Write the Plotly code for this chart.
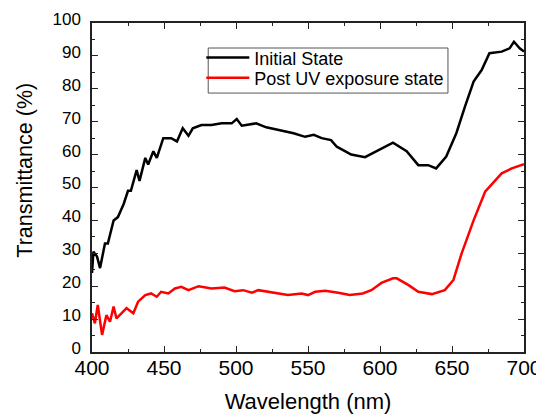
import plotly.graph_objects as go

# wavelength (nm) and transmittance (%)
wl_initial = [400, 401, 403.5, 405.6, 409, 411, 415, 418, 422, 425, 427, 431, 433, 437, 439,
              442.6, 445, 449.5, 455, 459, 463, 467, 470, 476, 483, 490, 497, 500.5, 504,
              514, 521, 529, 540, 548, 554, 559.5, 566, 570, 580, 589.6, 599, 603.5, 609,
              618.5, 626.6, 633.5, 639, 646, 653, 659, 665, 670.6, 676, 684.5, 690, 693,
              697, 700]
t_initial = [24, 30.5, 29, 25.5, 33, 33, 40, 41, 45, 49, 49, 55.3, 52, 59, 57,
             61, 59, 65, 65, 64, 68, 65.7, 68, 69, 69, 69.5, 69.5, 70.8, 68.8,
             69.5, 68.3, 67.5, 66.5, 65.4, 66, 65, 64.4, 62.4, 60, 59.2, 61.4, 62.2, 63.6,
             61, 56.8, 56.8, 55.8, 59.4, 66.5, 74.6, 82.2, 85.7, 90.8, 91.3, 92.3, 94.3,
             92.3, 91.3]

wl_uv = [400, 402, 404, 407, 410, 412.5, 415, 417, 420.6, 424, 428.7, 432, 437, 441,
         445, 448, 453, 457.6, 462, 467, 474, 483, 492, 499, 505, 511, 515.5, 525, 536,
         545.6, 550, 555, 562, 571, 579, 588, 594, 601, 609, 611.6, 619.6, 626.6, 636,
         645, 651, 656.7, 665, 673, 684.5, 691.5, 700]
t_uv = [11.8, 8.7, 14.3, 5.2, 11.2, 9.2, 13.8, 10.2, 11.8, 13.3, 11.8, 15.3, 17.3, 17.8,
        16.8, 18.3, 17.8, 19.3, 19.8, 18.8, 20, 19.3, 19.6, 18.5, 18.8, 18, 18.8, 18, 17.3,
        17.8, 17.3, 18.3, 18.6, 18, 17.3, 17.8, 18.8, 21, 22.4, 22.4, 20.4, 18.3, 17.6,
        18.8, 21.9, 30, 40, 48.7, 54.3, 55.8, 57.1]

fig = go.Figure()
fig.add_trace(go.Scatter(x=wl_initial, y=t_initial, mode="lines", name="Initial State",
                         line=dict(color="black", width=2.5), legend="legend"))
fig.add_trace(go.Scatter(x=wl_uv, y=t_uv, mode="lines", name="Post UV exposure state",
                         line=dict(color="red", width=2.5), legend="legend2"))

axis_common = dict(showline=True, linecolor="#222", linewidth=1.5, mirror="allticks",
                   ticks="inside", ticklen=6, tickwidth=1.2, tickcolor="#222",
                   showgrid=False, zeroline=False, automargin=False)

fig.update_xaxes(range=[400, 700], dtick=50, tickfont=dict(size=21, color="black"),
                 ticklabelstandoff=-4,
                 title=dict(text="Wavelength (nm)", font=dict(size=22, color="black"), standoff=16),
                 minor=dict(ticks="inside", ticklen=3, dtick=25, tickcolor="#222"),
                 **axis_common)
fig.update_yaxes(range=[0, 100], dtick=10, tickfont=dict(size=17, color="black"),
                 ticklabelstandoff=6, ticklabelshift=-4,
                 minor=dict(ticks="inside", ticklen=3, dtick=5, tickcolor="#222"),
                 **axis_common)

# y title sits a bit above the plot centre in the reference
fig.add_annotation(text="Transmittance (%)", textangle=-90, xref="paper", yref="paper",
                   x=-0.156, y=0.553, xanchor="center", yanchor="middle", showarrow=False,
                   font=dict(size=21.5, color="black"))

# one frame around both legend entries
fig.add_shape(type="rect", xref="paper", yref="paper", x0=0.269, x1=0.824, y0=0.787, y1=0.924,
              line=dict(color="#555", width=1), fillcolor="white", layer="below")

leg = dict(xanchor="left", yanchor="middle", bgcolor="rgba(0,0,0,0)", borderwidth=0,
           font=dict(size=18), itemwidth=43)

fig.update_layout(
    width=536, height=407,
    margin=dict(l=84, r=20, t=15, b=63),
    plot_bgcolor="white", paper_bgcolor="white",
    font=dict(family="Liberation Sans, Arial, sans-serif", color="black"),
    legend=dict(x=0.253, y=0.894, **leg),
    legend2=dict(x=0.253, y=0.833, **leg),
    showlegend=True,
)

fig.write_html("out.html")
